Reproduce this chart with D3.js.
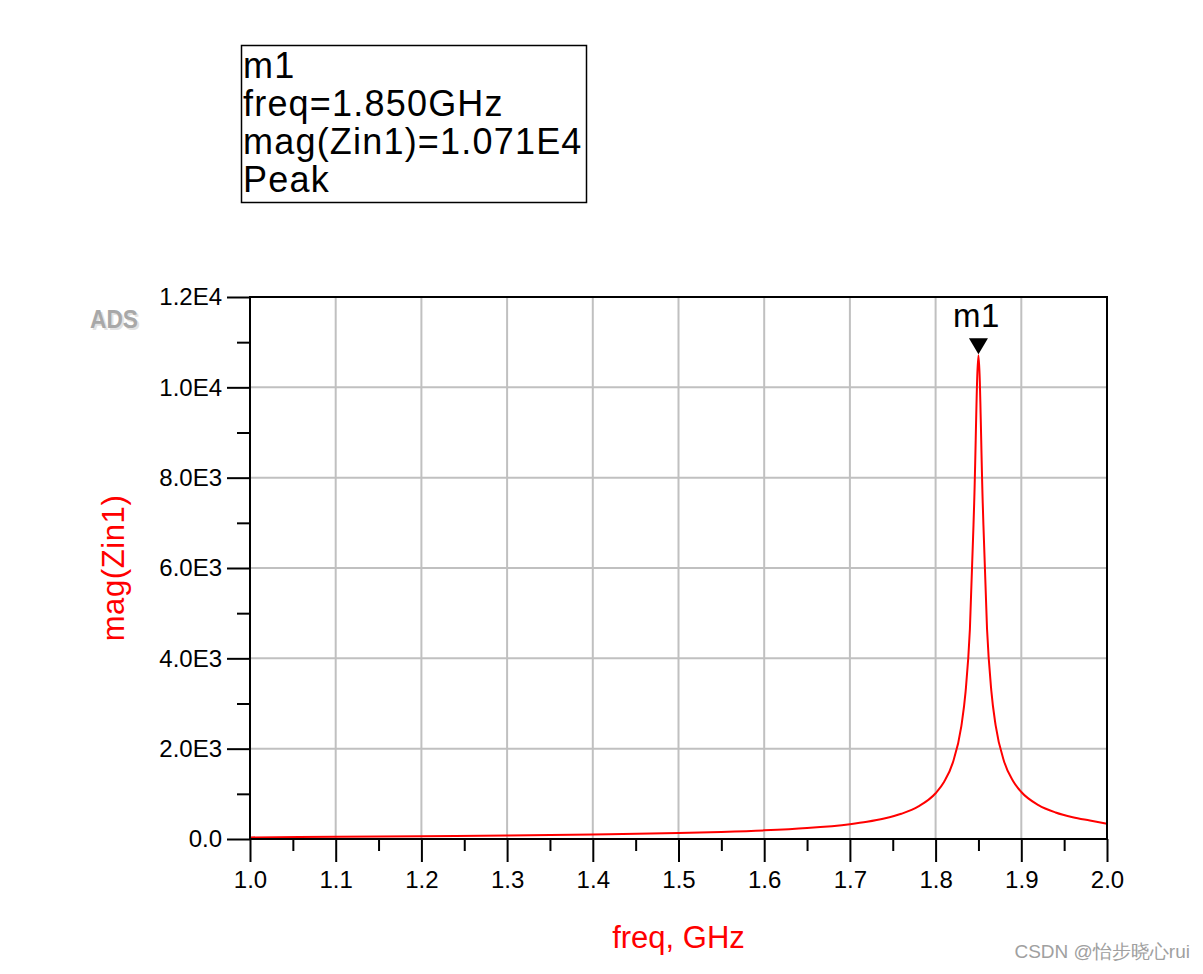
<!DOCTYPE html>
<html>
<head>
<meta charset="utf-8">
<script src="https://cdn.jsdelivr.net/npm/d3@7"></script>
<style>
  html, body { margin: 0; padding: 0; background: #fff; }
  svg { display: block; }
  text { font-family: "Liberation Sans", Arial, sans-serif; }
</style>
</head>
<body>
<svg id="chart" width="1203" height="974"></svg>
<script>
// ---- Data ----
const freqGHz = [1.0, 1.1, 1.2, 1.3, 1.4, 1.5, 1.55, 1.6, 1.65, 1.7, 1.72, 1.74, 1.76, 1.78,
                 1.8, 1.81, 1.82, 1.83, 1.835, 1.84, 1.845, 1.85, 1.855, 1.86, 1.865, 1.87,
                 1.88, 1.89, 1.9, 1.92, 1.94, 1.96, 1.98, 2.0];
const magZin1 = [35, 50, 62, 77, 99, 132, 157, 191, 243, 329, 382, 454, 558, 722,
                 1013, 1267, 1685, 2495, 3263, 4638, 7427, 10710, 7440, 4655, 3287, 2520,
                 1711, 1294, 1040, 750, 587, 482, 410, 340];
const xTicks = [1.0, 1.1, 1.2, 1.3, 1.4, 1.5, 1.6, 1.7, 1.8, 1.9, 2.0];
const xTickLabels = ["1.0", "1.1", "1.2", "1.3", "1.4", "1.5", "1.6", "1.7", "1.8", "1.9", "2.0"];
const yTicks = [0, 2000, 4000, 6000, 8000, 10000, 12000];
const yTickLabels = ["0.0", "2.0E3", "4.0E3", "6.0E3", "8.0E3", "1.0E4", "1.2E4"];
const xMinorTicks = [1.05, 1.15, 1.25, 1.35, 1.45, 1.55, 1.65, 1.75, 1.85, 1.95];
const yMinorTicks = [1000, 3000, 5000, 7000, 9000, 11000];
const markerName = "m1";
const markerFreq = 1.85;
const markerValue = 10710;
const markerLines = ["m1", "freq=1.850GHz", "mag(Zin1)=1.071E4", "Peak"];
const xTitle = "freq, GHz";
const yTitle = "mag(Zin1)";

// ---- Layout ----
const svg = d3.select("#chart");
const L = 250, R = 1107, T = 297, B = 839;
const x = d3.scaleLinear().domain([1.0, 2.0]).range([L, R]);
const y = d3.scaleLinear().domain([0, 12000]).range([B, T]);

// grid
const grid = svg.append("g");
grid.selectAll("line.gx").data(xTicks.slice(1, -1)).enter().append("line")
  .attr("x1", d => x(d)).attr("x2", d => x(d)).attr("y1", T).attr("y2", B)
  .attr("stroke", "#c0c0c0").attr("stroke-width", 2);
grid.selectAll("line.gy").data(yTicks.slice(1, -1)).enter().append("line")
  .attr("x1", L).attr("x2", R).attr("y1", d => y(d)).attr("y2", d => y(d))
  .attr("stroke", "#c0c0c0").attr("stroke-width", 2);

// curve
const line = d3.line().x((d, i) => x(freqGHz[i])).y(d => y(d)).curve(d3.curveMonotoneX);
svg.append("path").datum(magZin1).attr("d", line)
  .attr("fill", "none").attr("stroke", "#ff0000").attr("stroke-width", 2);

// frame
svg.append("rect").attr("x", L).attr("y", T).attr("width", R - L).attr("height", B - T)
  .attr("fill", "none").attr("stroke", "#000").attr("stroke-width", 2);

// x axis
const xAxis = d3.axisBottom(x).tickValues(xTicks).tickSize(23).tickPadding(9)
  .tickFormat((d, i) => xTickLabels[i]);
const gx = svg.append("g").attr("transform", `translate(0,${B})`).call(xAxis);
gx.select(".domain").remove();
gx.selectAll(".tick line").attr("stroke", "#000").attr("stroke-width", 2);
gx.selectAll(".tick text").attr("font-size", 24).attr("fill", "#000")
  .attr("font-family", "Liberation Sans, Arial, sans-serif");
const xMinor = d3.axisBottom(x).tickValues(xMinorTicks).tickSize(12).tickFormat("");
const gxm = svg.append("g").attr("transform", `translate(0,${B})`).call(xMinor);
gxm.select(".domain").remove();
gxm.selectAll(".tick line").attr("stroke", "#000").attr("stroke-width", 2);

// y axis
const yAxis = d3.axisLeft(y).tickValues(yTicks).tickSize(23).tickPadding(5)
  .tickFormat((d, i) => yTickLabels[i]);
const gy = svg.append("g").attr("transform", `translate(${L},0)`).call(yAxis);
gy.select(".domain").remove();
gy.selectAll(".tick line").attr("stroke", "#000").attr("stroke-width", 2);
gy.selectAll(".tick text").attr("font-size", 24).attr("fill", "#000")
  .attr("font-family", "Liberation Sans, Arial, sans-serif");
const yMinor = d3.axisLeft(y).tickValues(yMinorTicks).tickSize(13).tickFormat("");
const gym = svg.append("g").attr("transform", `translate(${L},0)`).call(yMinor);
gym.select(".domain").remove();
gym.selectAll(".tick line").attr("stroke", "#000").attr("stroke-width", 2);

// axis titles
svg.append("text").attr("x", (L + R) / 2).attr("y", 948).attr("text-anchor", "middle")
  .attr("font-size", 31).attr("fill", "#ff0000").text(xTitle);
svg.append("text").attr("transform", `translate(124,${(T + B) / 2}) rotate(-90)`)
  .attr("text-anchor", "middle").attr("font-size", 31).attr("letter-spacing", 0.6)
  .attr("fill", "#ff0000").text(yTitle);

// ADS logo
svg.append("text").attr("x", 92).attr("y", 330).attr("font-size", 25).attr("font-weight", "bold")
  .attr("textLength", 48).attr("lengthAdjust", "spacingAndGlyphs")
  .attr("fill", "#e2e2e2").text("ADS");
svg.append("text").attr("x", 90).attr("y", 328).attr("font-size", 25).attr("font-weight", "bold")
  .attr("textLength", 48).attr("lengthAdjust", "spacingAndGlyphs")
  .attr("fill", "#a8a8a8").text("ADS");

// marker
const mx = x(markerFreq), my = y(markerValue);
svg.append("path")
  .attr("d", `M${mx - 9.5},${my - 17} L${mx + 9.5},${my - 17} L${mx},${my - 1} Z`)
  .attr("fill", "#000");
svg.append("text").attr("x", mx - 2).attr("y", 327).attr("text-anchor", "middle")
  .attr("font-size", 33).attr("letter-spacing", 0.5).attr("fill", "#000").text(markerName);

// marker readout box
svg.append("rect").attr("x", 241.5).attr("y", 45.5).attr("width", 345).attr("height", 157)
  .attr("fill", "#fff").attr("stroke", "#000").attr("stroke-width", 1.5);
svg.selectAll("text.mk").data(markerLines).enter().append("text")
  .attr("x", 243).attr("y", (d, i) => 78 + i * 38)
  .attr("font-size", 36).attr("letter-spacing", 1.2).attr("fill", "#000").text(d => d);

// watermark
svg.append("text").attr("x", 1190).attr("y", 958).attr("text-anchor", "end")
  .attr("font-size", 19).attr("fill", "#a0a0a0")
  .attr("font-family", "Liberation Sans, 'Noto Sans CJK SC', sans-serif")
  .text("CSDN @怡步晓心rui");
</script>
</body>
</html>
